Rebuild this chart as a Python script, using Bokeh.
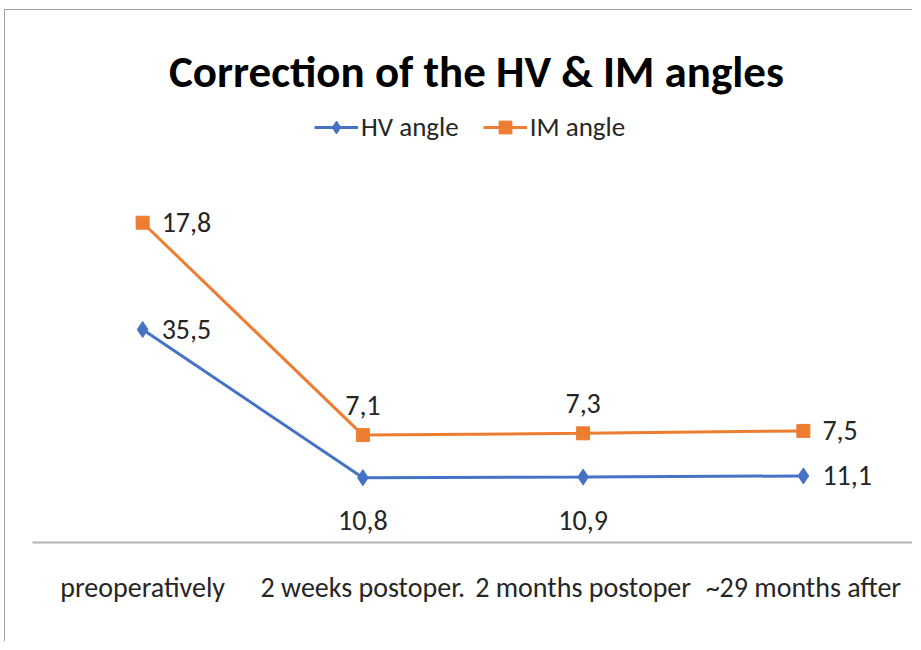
from bokeh.plotting import figure
from bokeh.models import Range1d, FactorRange, Label, Legend, LegendItem, ColumnDataSource
from bokeh.embed import file_html
from bokeh.resources import INLINE
from bokeh.core.properties import value

# ---- data ----
categories = ["preoperatively", "2 weeks postoper.", "2 months postoper", "~29 months after"]
hv_angle = [35.5, 10.8, 10.9, 11.1]
im_angle = [17.8, 7.1, 7.3, 7.5]
# label placement keywords (Excel-style)
hv_label_pos = ["right", "below", "below", "right"]
im_label_pos = ["right", "above", "above", "right"]

# stacked line chart: IM drawn on top of HV
im_stacked = [h + i for h, i in zip(hv_angle, im_angle)]

FONT = "Carlito, Lato, sans-serif"
BLUE = "#4472C4"
ORANGE = "#ED7D31"
TXT = "#262626"

p = figure(width=908, height=632, x_range=FactorRange(factors=categories, range_padding=0),
           y_range=Range1d(0, 88.67), output_backend="svg", toolbar_location=None, title=None,
           min_border_left=27, min_border_right=0, min_border_top=0, min_border_bottom=100)
p.margin = (9, 0, 0, 4)
p.styles = {"border-left": "1px solid #a0a0a0", "border-top": "1px solid #a0a0a0"}
p.yaxis.visible = False
p.xgrid.visible = False
p.ygrid.visible = False
p.outline_line_color = None
p.xaxis.axis_line_color = "#b4b4b4"
p.xaxis.axis_line_width = 2
p.xaxis.major_tick_line_color = None
p.xaxis.minor_tick_line_color = None
p.xaxis.major_label_standoff = 21
p.xaxis.major_label_text_font = FONT
p.xaxis.major_label_text_font_size = "28px"
p.xaxis.major_label_text_color = TXT

hv_line = p.line(categories, hv_angle, color=BLUE, line_width=3)
hv_pts = p.scatter(categories, hv_angle, marker="diamond", size=16, color=BLUE)
im_line = p.line(categories, im_stacked, color=ORANGE, line_width=3)
im_pts = p.scatter(categories, im_stacked, marker="square", size=13, color=ORANGE)

POS = {"right": (19, 0, "left"), "below": (0, 43, "center"), "above": (0, -30, "center")}

def add_labels(vals, ys, positions):
    for kind, (dx, dy, align) in POS.items():
        idx = [i for i, k in enumerate(positions) if k == kind]
        if not idx:
            continue
        src = ColumnDataSource(dict(
            x=[categories[i] for i in idx],
            y=[ys[i] for i in idx],
            t=[f"{vals[i]:.1f}".replace(".", ",") for i in idx]))
        p.text(x="x", y="y", text="t", source=src, x_offset=dx, y_offset=dy,
               text_align=align, text_baseline="middle", text_font=value(FONT),
               text_font_size="28px", text_color=TXT)

add_labels(hv_angle, hv_angle, hv_label_pos)
add_labels(im_angle, im_stacked, im_label_pos)

legend = Legend(items=[LegendItem(label="HV angle", renderers=[hv_line, hv_pts]),
                       LegendItem(label="IM angle", renderers=[im_line, im_pts])],
                orientation="horizontal", location=(282, 399), border_line_color=None,
                background_fill_alpha=0, label_text_font=FONT, label_text_font_size="27px",
                label_text_color=TXT, glyph_width=44, glyph_height=32, label_standoff=3,
                spacing=24, padding=0, margin=0)
p.add_layout(legend)

p.add_layout(Label(x=444, y=471, x_units="screen", y_units="screen",
                   text="Correction of the HV & IM angles", text_font=FONT,
                   text_font_size="45px", text_font_style="bold", text_color="#000000",
                   text_align="center", text_baseline="middle"))

open("out.html", "w").write(file_html(p, INLINE))
